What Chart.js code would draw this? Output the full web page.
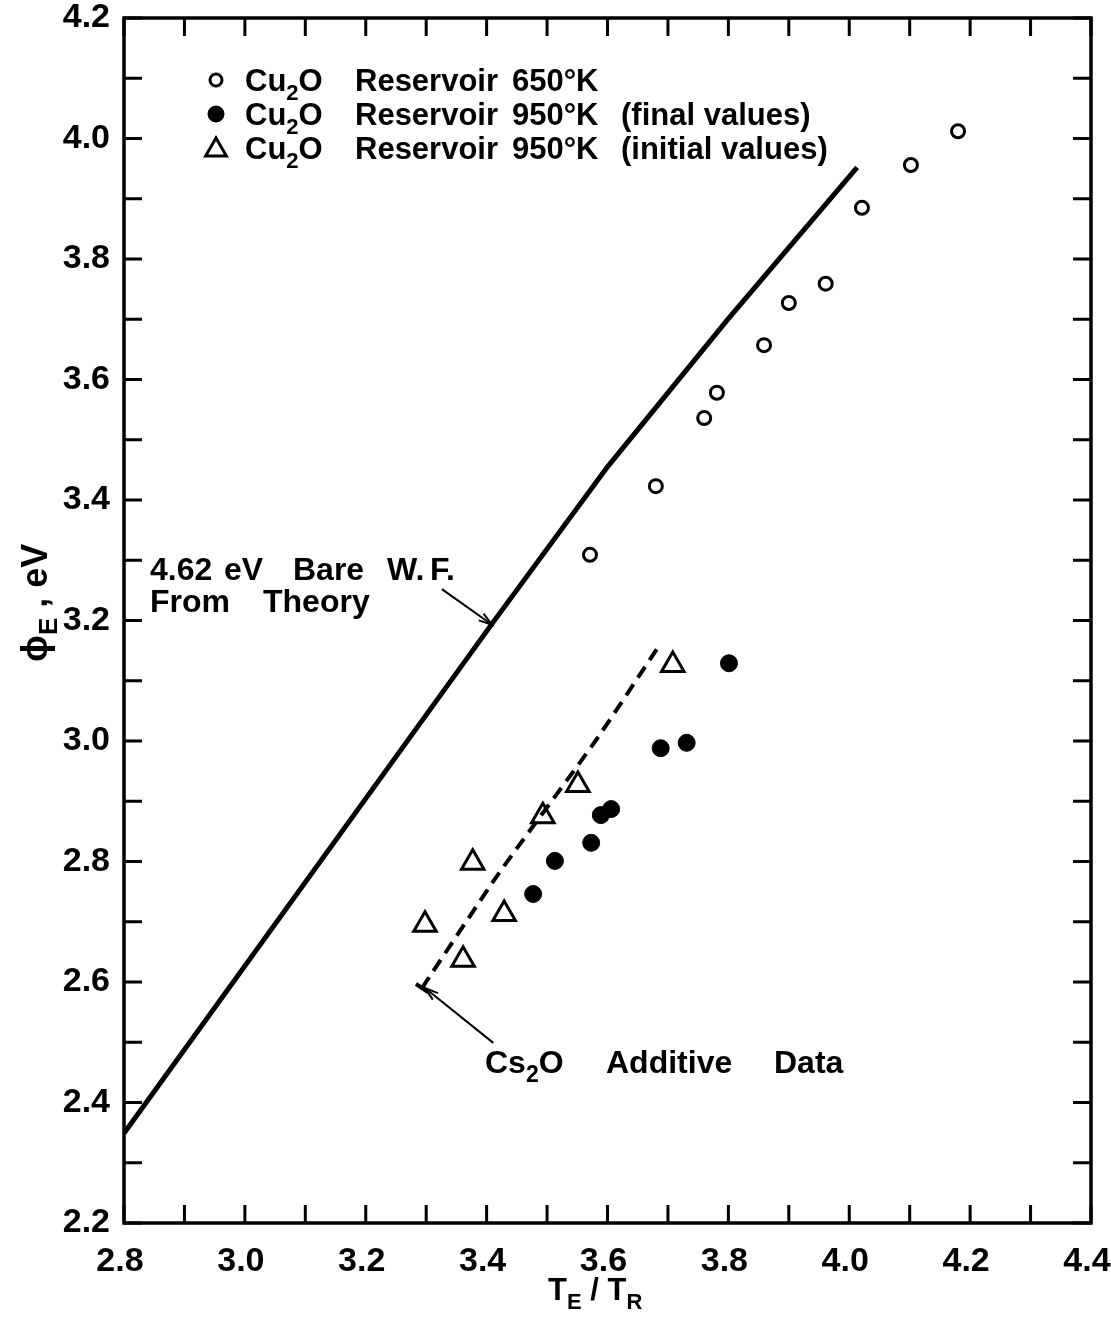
<!DOCTYPE html>
<html>
<head>
<meta charset="utf-8">
<script src="https://cdn.jsdelivr.net/npm/chart.js@4.4.0/dist/chart.umd.min.js"></script>
<style>
  html, body { margin: 0; padding: 0; background: #fff; }
  #wrap { width: 1111px; height: 1319px; }
</style>
</head>
<body>
<div id="wrap"><canvas id="chart"></canvas></div>
<script>
// tick labels
const xLabels = ['2.8', '3.0', '3.2', '3.4', '3.6', '3.8', '4.0', '4.2', '4.4'];
const yLabels = ['2.2', '2.4', '2.6', '2.8', '3.0', '3.2', '3.4', '3.6', '3.8', '4.0', '4.2'];
const minorStep = 0.1;

// Cu2O reservoir 650 K (open circles)
const open650X = [3.571, 3.680, 3.760, 3.781, 3.859, 3.900, 3.961, 4.021, 4.102, 4.180];
const open650Y = [3.309, 3.423, 3.536, 3.578, 3.657, 3.727, 3.759, 3.885, 3.956, 4.012];

// Cu2O reservoir 950 K, final values (filled circles)
const final950X = [3.477, 3.513, 3.573, 3.589, 3.606, 3.688, 3.731, 3.801];
const final950Y = [2.746, 2.801, 2.831, 2.877, 2.887, 2.988, 2.997, 3.129];

// Cu2O reservoir 950 K, initial values (triangles)
const initial950X = [3.298, 3.361, 3.377, 3.429, 3.493, 3.551, 3.708];
const initial950Y = [2.695, 2.637, 2.798, 2.713, 2.875, 2.927, 3.126];

// 4.62 eV bare work function, from theory (solid line)
const theoryX = [2.80, 3.41, 3.60, 3.80, 4.013];
const theoryY = [2.349, 3.196, 3.455, 3.701, 3.952];

// Cs2O additive data (dashed line)
const cs2oX = [3.293, 3.42, 3.58, 3.682];
const cs2oY = [2.590, 2.780, 3.000, 3.153];

// annotation arrows: [fromX, fromY, toX, toY]
const theoryArrow = [3.326, 3.252, 3.409, 3.193];
const cs2oArrow = [3.411, 2.499, 3.298, 2.590];

const FONT = "'Liberation Sans', Arial, sans-serif";
const toPts = (xs, ys) => xs.map((x, i) => ({ x: x, y: ys[i] }));

// text with subscripts: parts = [[text, isSub], ...]
function drawRich(ctx, parts, x, y, size) {
  let cx = x;
  parts.forEach(([t, sub]) => {
    const s = sub ? Math.round(size * 0.72) : size;
    ctx.font = `bold ${s}px ${FONT}`;
    ctx.fillText(t, cx, sub ? y + size * 0.28 : y);
    cx += ctx.measureText(t).width;
  });
  return cx;
}

function words(ctx, list, y, size) {
  ctx.font = `bold ${size}px ${FONT}`;
  list.forEach(([t, x]) => ctx.fillText(t, x, y));
}

function arrow(ctx, x1, y1, x2, y2) {
  ctx.beginPath();
  ctx.moveTo(x1, y1);
  ctx.lineTo(x2, y2);
  ctx.stroke();
  const a = Math.atan2(y2 - y1, x2 - x1);
  const L = 14;
  ctx.beginPath();
  ctx.moveTo(x2 - L * Math.cos(a - 0.3), y2 - L * Math.sin(a - 0.3));
  ctx.lineTo(x2, y2);
  ctx.lineTo(x2 - L * Math.cos(a + 0.3), y2 - L * Math.sin(a + 0.3));
  ctx.stroke();
}

const framePlugin = {
  id: 'frame',
  afterDraw(chart) {
    const { ctx, chartArea: a, scales } = chart;
    const sx = scales.x, sy = scales.y;
    ctx.save();
    ctx.strokeStyle = '#000';
    ctx.fillStyle = '#000';
    ctx.lineWidth = 3.5;
    ctx.lineCap = 'butt';
    ctx.strokeRect(a.left, a.top, a.right - a.left, a.bottom - a.top);
    const tl = 18;
    ctx.lineWidth = 3;
    ctx.beginPath();
    sx.ticks.forEach(t => {
      const px = sx.getPixelForValue(t.value);
      ctx.moveTo(px, a.bottom); ctx.lineTo(px, a.bottom - tl);
      ctx.moveTo(px, a.top); ctx.lineTo(px, a.top + tl);
    });
    sy.ticks.forEach(t => {
      const py = sy.getPixelForValue(t.value);
      ctx.moveTo(a.left, py); ctx.lineTo(a.left + tl, py);
      ctx.moveTo(a.right, py); ctx.lineTo(a.right - tl, py);
    });
    ctx.stroke();

    // annotations
    ctx.lineWidth = 2;
    const P = (x, y) => [sx.getPixelForValue(x), sy.getPixelForValue(y)];
    let p1 = P(theoryArrow[0], theoryArrow[1]), p2 = P(theoryArrow[2], theoryArrow[3]);
    arrow(ctx, p1[0], p1[1], p2[0], p2[1]);
    p1 = P(cs2oArrow[0], cs2oArrow[1]); p2 = P(cs2oArrow[2], cs2oArrow[3]);
    arrow(ctx, p1[0], p1[1], p2[0], p2[1]);
    // end cap of dashed line
    const e = P(cs2oX[0], cs2oY[0]);
    ctx.lineWidth = 4;
    ctx.beginPath();
    ctx.moveTo(e[0] - 6, e[1] - 4); ctx.lineTo(e[0] + 6, e[1] + 4);
    ctx.stroke();

    ctx.textBaseline = 'alphabetic';
    ctx.textAlign = 'left';
    words(ctx, [['4.62', 150], ['eV', 224], ['Bare', 293], ['W.', 387], ['F.', 430]], 580, 32);
    words(ctx, [['From', 150], ['Theory', 263]], 612, 32);
    drawRich(ctx, [['Cs', false], ['2', true], ['O', false]], 485, 1073, 32);
    words(ctx, [['Additive', 606], ['Data', 774]], 1073, 32);

    // legend
    const rows = [
      { style: 'circle', r: 6, fill: '#fff', bw: 3, val: '650°K', extra: '' },
      { style: 'circle', r: 8, fill: '#000', bw: 1, val: '950°K', extra: '(final values)' },
      { style: 'triangle', r: 12, fill: '#fff', bw: 3, val: '950°K', extra: '(initial values)' }
    ];
    rows.forEach((r, i) => {
      const by = 91 + i * 34;
      ctx.lineWidth = r.bw;
      ctx.fillStyle = r.fill;
      Chart.helpers.drawPoint(ctx, { pointStyle: r.style, radius: r.r, borderWidth: r.bw }, 216, by - 11 + (r.style === 'triangle' ? 2 : 0));
      ctx.fillStyle = '#000';
      drawRich(ctx, [['Cu', false], ['2', true], ['O', false]], 245, by, 31);
      words(ctx, [['Reservoir', 355], [r.val, 512]], by, 31);
      if (r.extra) words(ctx, [[r.extra, 621]], by, 31);
    });

    // axis titles
    drawRich(ctx, [['T', false], ['E', true], [' / ', false], ['T', false], ['R', true]], 548, 1300, 31);
    ctx.save();
    ctx.translate(47, 662);
    ctx.rotate(-Math.PI / 2);
    drawRich(ctx, [['ϕ', false], ['E', true], [' , eV', false]], 0, 0, 36);
    ctx.restore();
    ctx.restore();
  }
};

const tickFont = { family: FONT, size: 34, weight: 'bold' };

new Chart(document.getElementById('chart'), {
  type: 'scatter',
  data: {
    datasets: [
      {
        label: '4.62 eV Bare W. F. From Theory', type: 'line',
        data: toPts(theoryX, theoryY),
        borderColor: '#000', borderWidth: 5, pointRadius: 0, tension: 0, fill: false
      },
      {
        label: 'Cs2O Additive Data', type: 'line',
        data: toPts(cs2oX, cs2oY),
        borderColor: '#000', borderWidth: 4, borderDash: [13, 8], pointRadius: 0, tension: 0.2, fill: false
      },
      {
        label: 'Cu2O Reservoir 650°K',
        data: toPts(open650X, open650Y),
        pointStyle: 'circle', pointRadius: 6.5, borderWidth: 3,
        borderColor: '#000', backgroundColor: '#fff'
      },
      {
        label: 'Cu2O Reservoir 950°K (final values)',
        data: toPts(final950X, final950Y),
        pointStyle: 'circle', pointRadius: 8.5, borderWidth: 1,
        borderColor: '#000', backgroundColor: '#000'
      },
      {
        label: 'Cu2O Reservoir 950°K (initial values)',
        data: toPts(initial950X, initial950Y),
        pointStyle: 'triangle', pointRadius: 13, borderWidth: 3,
        borderColor: '#000', backgroundColor: '#fff'
      }
    ]
  },
  options: {
    responsive: true,
    maintainAspectRatio: false,
    animation: false,
    events: [],
    layout: { padding: { left: 0, right: 20, top: 18, bottom: 0 } },
    plugins: { legend: { display: false }, tooltip: { enabled: false } },
    scales: {
      x: {
        type: 'linear', min: 2.8, max: 4.4,
        grid: { display: false }, border: { display: false },
        ticks: {
          stepSize: minorStep, autoSkip: false, maxRotation: 0, padding: 10, labelOffset: -4,
          color: '#000', font: tickFont,
          callback: v => { const s = v.toFixed(1); return xLabels.includes(s) ? s : ''; }
        },
        afterFit: s => { s.height = 96; s.paddingLeft = 0; s.paddingRight = 0; }
      },
      y: {
        type: 'linear', min: 2.2, max: 4.2,
        grid: { display: false }, border: { display: false },
        ticks: {
          stepSize: minorStep, autoSkip: false, padding: 6,
          color: '#000', font: tickFont,
          callback: v => { const s = v.toFixed(1); return yLabels.includes(s) ? s : ''; }
        },
        afterFit: s => { s.width = 124; s.paddingTop = 0; s.paddingBottom = 0; }
      }
    }
  },
  plugins: [framePlugin]
});
</script>
</body>
</html>
